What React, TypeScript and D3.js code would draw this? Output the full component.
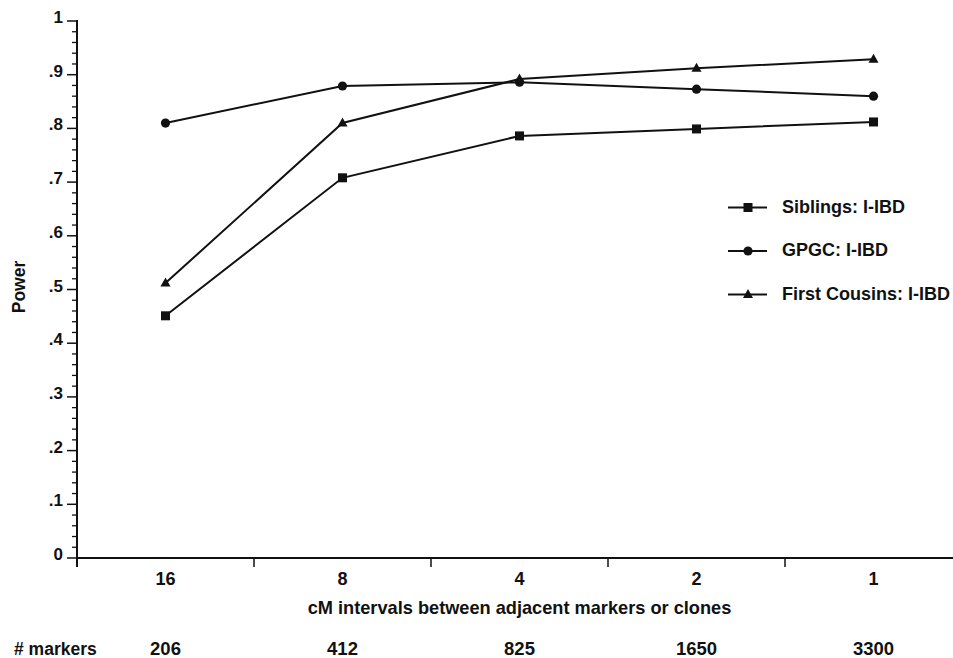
import * as d3 from "d3";

const intervals = ["16", "8", "4", "2", "1"];
const markerCounts = ["206", "412", "825", "1650", "3300"];
const siblings = [0.451, 0.708, 0.786, 0.799, 0.812];
const gpgc = [0.81, 0.879, 0.886, 0.873, 0.86];
const firstCousins = [0.512, 0.81, 0.892, 0.912, 0.929];
const yMajorTicks = [0, 0.1, 0.2, 0.3, 0.4, 0.5, 0.6, 0.7, 0.8, 0.9, 1];
const seriesNames = ["Siblings: I-IBD", "GPGC: I-IBD", "First Cousins: I-IBD"];

type Shape = "square" | "circle" | "triangle";

const series: { name: string; values: number[]; shape: Shape }[] = [
  { name: seriesNames[0], values: siblings, shape: "square" },
  { name: seriesNames[1], values: gpgc, shape: "circle" },
  { name: seriesNames[2], values: firstCousins, shape: "triangle" },
];

const WIDTH = 953;
const HEIGHT = 658;
const LEFT = 77;
const TOP = 21;
const BOTTOM = 558;
const FONT = "'Liberation Sans', Arial, sans-serif";
const INK = "#111";

function Marker({ shape, cx, cy }: { shape: Shape; cx: number; cy: number }) {
  if (shape === "square") return <rect x={cx - 4.5} y={cy - 4.5} width={9} height={9} fill={INK} />;
  if (shape === "circle") return <circle cx={cx} cy={cy} r={4.6} fill={INK} />;
  return <path d={`M${cx},${cy - 5.5} L${cx + 5},${cy + 3.5} L${cx - 5},${cy + 3.5} Z`} fill={INK} />;
}

export default function App() {
  const x = d3.scaleBand<string>().domain(intervals).range([LEFT, LEFT + 5 * 177]);
  const y = d3.scaleLinear().domain([0, 1]).range([BOTTOM, TOP]);
  const cx = (key: string) => (x(key) ?? 0) + x.bandwidth() / 2;
  const line = d3
    .line<number>()
    .x((_, i) => cx(intervals[i]))
    .y((v) => y(v));
  const minorTicks = d3.range(0, 50).map((i) => i * 0.02).filter((_, i) => i % 5 !== 0);
  const bandEdges = intervals.map((k) => x(k) ?? 0);
  const [r0, r1] = x.range();
  const midY = 287;

  return (
    <svg width={WIDTH} height={HEIGHT} style={{ position: "absolute", left: 0, top: 0 }} fontFamily={FONT}>
      <rect width={WIDTH} height={HEIGHT} fill="#fff" />
      {/* y axis */}
      <line x1={LEFT} x2={LEFT} y1={TOP - 1} y2={BOTTOM + 9} stroke={INK} strokeWidth={2} />
      {yMajorTicks.map((t) => (
        <g key={t}>
          <line x1={LEFT - 10} x2={LEFT} y1={y(t)} y2={y(t)} stroke={INK} strokeWidth={1.5} />
          <text x={LEFT - 14} y={y(t) + 2} textAnchor="end" fontSize={17} fontWeight={700} fill={INK}>
            {t === 0 ? "0" : t === 1 ? "1" : d3.format(".1f")(t).replace(/^0/, "")}
          </text>
        </g>
      ))}
      {minorTicks.map((t) => (
        <line key={t} x1={LEFT - 5} x2={LEFT} y1={y(t)} y2={y(t)} stroke={INK} strokeWidth={1.3} />
      ))}
      <text x={25} y={midY} transform={`rotate(-90 25 ${midY})`} textAnchor="middle" fontSize={17.5} fontWeight={700} fill={INK}>
        Power
      </text>
      {/* x axis */}
      <line x1={LEFT} x2={WIDTH} y1={BOTTOM} y2={BOTTOM} stroke={INK} strokeWidth={2} />
      {bandEdges.map((e, i) => (
        <line key={i} x1={e} x2={e} y1={BOTTOM} y2={BOTTOM + 9} stroke={INK} strokeWidth={1.5} />
      ))}
      {intervals.map((k) => (
        <text key={k} x={cx(k)} y={585} textAnchor="middle" fontSize={18} fontWeight={700} fill={INK}>
          {k}
        </text>
      ))}
      <text x={(r0 + r1) / 2} y={614} textAnchor="middle" fontSize={18.2} fontWeight={700} fill={INK}>
        cM intervals between adjacent markers or clones
      </text>
      <text x={14} y={655} fontSize={17.5} fontWeight={700} fill={INK}>
        # markers
      </text>
      {markerCounts.map((m, i) => (
        <text key={m} x={cx(intervals[i])} y={655} textAnchor="middle" fontSize={18.5} fontWeight={700} fill={INK}>
          {m}
        </text>
      ))}
      {/* series */}
      {series.map((s) => (
        <g key={s.name}>
          <path d={line(s.values) ?? undefined} fill="none" stroke={INK} strokeWidth={2} />
          {s.values.map((v, i) => (
            <Marker key={i} shape={s.shape} cx={cx(intervals[i])} cy={y(v)} />
          ))}
        </g>
      ))}
      {/* legend */}
      {series.map((s, i) => {
        const ly = 207.5 + i * 43.5;
        return (
          <g key={s.name}>
            <line x1={728} x2={767} y1={ly} y2={ly} stroke={INK} strokeWidth={2} />
            <Marker shape={s.shape} cx={748} cy={ly} />
            <text x={782} y={ly + 5} fontSize={18} fontWeight={700} fill={INK}>
              {s.name}
            </text>
          </g>
        );
      })}
    </svg>
  );
}
